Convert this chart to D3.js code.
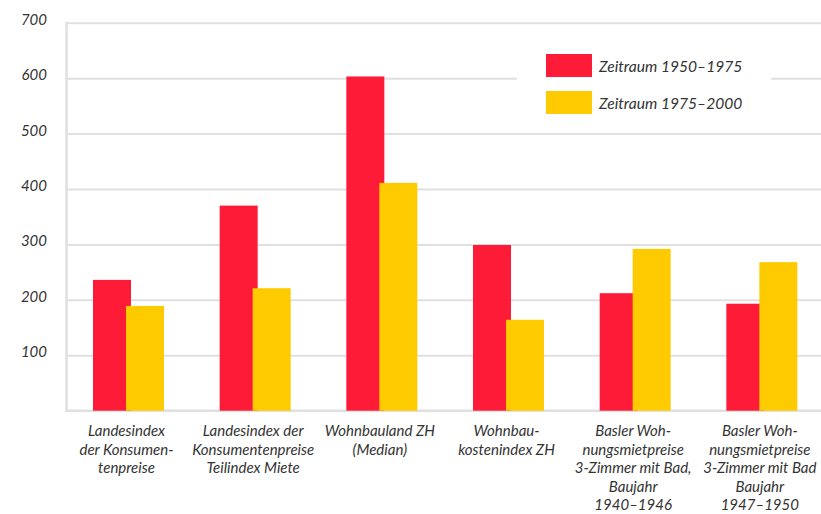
<!DOCTYPE html>
<html>
<head>
<meta charset="utf-8">
<script src="https://cdn.jsdelivr.net/npm/d3@7"></script>
<style>
  html, body { margin: 0; padding: 0; background: #fff; }
  svg { display: block; font-family: Lato, "Open Sans", sans-serif; font-style: italic; }
</style>
</head>
<body>
<svg id="chart" width="821" height="514"></svg>
<script>
// data
var categories = [
  ["Landesindex", "der Konsumen-", "tenpreise"],
  ["Landesindex der", "Konsumentenpreise", "Teilindex Miete"],
  ["Wohnbauland ZH", "(Median)"],
  ["Wohnbau-", "kostenindex ZH"],
  ["Basler Woh-", "nungsmietpreise", "3-Zimmer mit Bad,", "Baujahr", "1940\u20131946"],
  ["Basler Woh-", "nungsmietpreise", "3-Zimmer mit Bad", "Baujahr", "1947\u20131950"]
]
var seriesNames = ["Zeitraum 1950\u20131975", "Zeitraum 1975\u20132000"]
var values1950 = [236, 370, 603, 299, 212, 193]
var values1975 = [189, 221, 411, 164, 292, 268]
var tickValues = [100, 200, 300, 400, 500, 600, 700]
var colors = ["#fe1b37", "#fecb00"]

const svg = d3.select("#chart")
const plotLeft = 66
const plotRight = 826
const plotTop = 22.7
const plotBottom = 410.7
const gridColor = "#e0e0e0"
const textColor = "#333"

const ids = categories.map((c, i) => i)
const x = d3.scaleBand().domain(ids).range([plotLeft, plotRight]).padding(0)
const y = d3.scaleLinear().domain([0, 700]).range([plotBottom, plotTop])
// red/yellow bars overlap slightly
const sub = d3.scalePoint().domain([0, 1]).range([27, 60])
const barWidth = 38

// gridlines + tick labels
const yAxis = d3.axisLeft(y)
  .tickValues(tickValues)
  .tickSize(-(plotRight - plotLeft + 10))
  .tickPadding(19)
  .tickFormat(d3.format("d"))

const gAxis = svg.append("g")
  .attr("transform", "translate(" + plotLeft + ",0)")
  .call(yAxis)
gAxis.select(".domain").remove()
gAxis.selectAll(".tick line")
  .attr("stroke", gridColor)
  .attr("stroke-width", 2)
gAxis.selectAll(".tick text")
  .attr("fill", textColor)
  .attr("dy", "0.1em")
  .style("font-size", "15px")
  .style("font-family", "Lato, sans-serif")
  .style("font-style", "italic")

// legend background (hides the gridline behind it)
svg.append("rect")
  .attr("x", 517).attr("y", 36)
  .attr("width", 254).attr("height", 88)
  .attr("fill", "#fff")

// baseline and left axis line
svg.append("line")
  .attr("x1", plotLeft - 1).attr("x2", plotRight + 10)
  .attr("y1", y(0)).attr("y2", y(0))
  .attr("stroke", gridColor).attr("stroke-width", 2.5)
svg.append("line")
  .attr("x1", plotLeft + 0.5).attr("x2", plotLeft + 0.5)
  .attr("y1", y(700) - 1).attr("y2", y(0) + 1)
  .attr("stroke", gridColor).attr("stroke-width", 2.5)

// bars
const groups = [values1950, values1975]
groups.forEach(function(vals, s) {
  svg.append("g").selectAll("rect")
    .data(vals)
    .enter()
    .append("rect")
    .attr("x", (d, i) => x(i) + sub(s))
    .attr("y", d => y(d))
    .attr("width", barWidth)
    .attr("height", d => y(0) - y(d))
    .attr("fill", colors[s])
})

// category labels
const lab = svg.append("g")
  .attr("fill", textColor)
  .style("font-size", "15px")
  .attr("text-anchor", "middle")
categories.forEach(function(lines, i) {
  const cx = x(i) + sub(0) + (sub(1) + barWidth - sub(0)) / 2 - 2
  const t = lab.append("text")
    .attr("x", cx)
    .attr("y", 436)
  lines.forEach(function(line, j) {
    t.append("tspan")
      .attr("x", cx)
      .attr("dy", j == 0 ? 0 : 18.6)
      .text(line)
  })
})

// legend
const leg = svg.append("g").attr("transform", "translate(546,54)")
seriesNames.forEach(function(name, i) {
  leg.append("rect")
    .attr("x", 0).attr("y", i * 37)
    .attr("width", 46).attr("height", 23)
    .attr("fill", colors[i])
  leg.append("text")
    .attr("x", 53).attr("y", i * 37 + 17.5)
    .attr("fill", textColor)
    .style("font-size", "15.6px")
    .text(name)
})
</script>
</body>
</html>
